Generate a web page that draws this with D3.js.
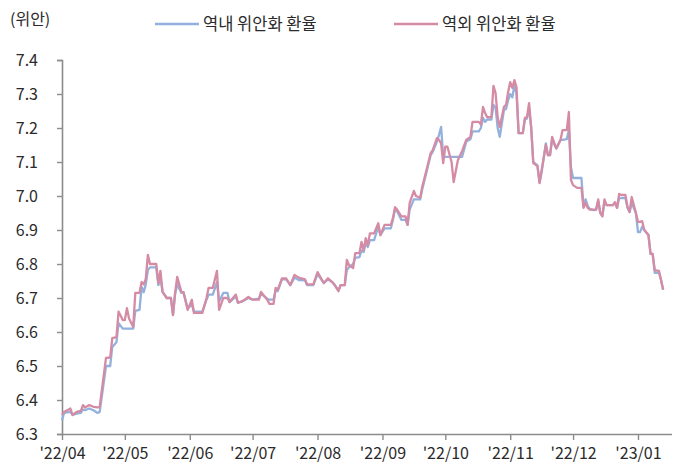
<!DOCTYPE html>
<html>
<head>
<meta charset="utf-8">
<script src="https://cdn.jsdelivr.net/npm/d3@7"></script>
<style>
  body { margin: 0; background: #fff; }
  svg text { font-family: "Noto Sans CJK KR", "Noto Sans", sans-serif; fill: #2a2a2a; }
</style>
</head>
<body>
<div id="chart"></div>
<script>
/* data: onshore / offshore CNY per USD */
const dates = [
  "2022-04-01","2022-04-02","2022-04-05","2022-04-06","2022-04-08","2022-04-10","2022-04-11","2022-04-12",
  "2022-04-14","2022-04-16","2022-04-18","2022-04-19","2022-04-22","2022-04-24","2022-04-25","2022-04-27",
  "2022-04-28","2022-04-30","2022-05-01","2022-05-02","2022-05-03","2022-05-05","2022-05-06","2022-05-08",
  "2022-05-09","2022-05-10","2022-05-11","2022-05-12","2022-05-13","2022-05-16","2022-05-17","2022-05-18",
  "2022-05-19","2022-05-21","2022-05-23","2022-05-24","2022-05-25","2022-05-26","2022-05-28","2022-05-29",
  "2022-05-31","2022-06-02","2022-06-03","2022-06-07","2022-06-09","2022-06-10","2022-06-12","2022-06-14",
  "2022-06-15","2022-06-17","2022-06-19","2022-06-20","2022-06-23","2022-06-24","2022-06-26","2022-06-29",
  "2022-07-01","2022-07-04","2022-07-05","2022-07-08","2022-07-09","2022-07-11","2022-07-12","2022-07-13",
  "2022-07-15","2022-07-17","2022-07-19","2022-07-21","2022-07-23","2022-07-26","2022-07-27","2022-07-30",
  "2022-08-01","2022-08-04","2022-08-06","2022-08-08","2022-08-09","2022-08-11","2022-08-12","2022-08-14",
  "2022-08-15","2022-08-16","2022-08-18","2022-08-19","2022-08-21","2022-08-22","2022-08-23","2022-08-24",
  "2022-08-25","2022-08-26","2022-08-28","2022-08-30","2022-08-31","2022-09-02","2022-09-05","2022-09-06",
  "2022-09-07","2022-09-08","2022-09-10","2022-09-12","2022-09-13","2022-09-14","2022-09-16","2022-09-17",
  "2022-09-19","2022-09-20","2022-09-22","2022-09-24","2022-09-25","2022-09-27","2022-09-28","2022-09-29",
  "2022-09-30","2022-10-01","2022-10-02","2022-10-04","2022-10-05","2022-10-07","2022-10-09","2022-10-11",
  "2022-10-13","2022-10-14","2022-10-17","2022-10-18","2022-10-19","2022-10-20","2022-10-21","2022-10-23",
  "2022-10-24","2022-10-25","2022-10-26","2022-10-27","2022-10-29","2022-10-30","2022-10-31","2022-11-01",
  "2022-11-02","2022-11-03","2022-11-04","2022-11-05","2022-11-07","2022-11-08","2022-11-09","2022-11-10",
  "2022-11-11","2022-11-12","2022-11-14","2022-11-15","2022-11-16","2022-11-18","2022-11-19","2022-11-20",
  "2022-11-21","2022-11-23","2022-11-25","2022-11-26","2022-11-28","2022-11-29","2022-11-30","2022-12-01",
  "2022-12-03","2022-12-05","2022-12-06","2022-12-07","2022-12-08","2022-12-09","2022-12-11","2022-12-12",
  "2022-12-13","2022-12-14","2022-12-15","2022-12-16","2022-12-17","2022-12-20","2022-12-21","2022-12-22",
  "2022-12-23","2022-12-24","2022-12-26","2022-12-27","2022-12-28","2022-12-29","2022-12-31","2023-01-01",
  "2023-01-02","2023-01-03","2023-01-04","2023-01-06","2023-01-07","2023-01-08","2023-01-09","2023-01-11",
  "2023-01-12","2023-01-13"
];

const onshore = [
  6.340,6.362,6.365,6.356,6.360,6.362,6.372,6.370,
  6.375,6.370,6.362,6.365,6.500,6.500,6.556,6.570,
  6.626,6.610,6.610,6.610,6.610,6.610,6.662,6.665,
  6.733,6.717,6.740,6.782,6.790,6.790,6.738,6.760,
  6.718,6.700,6.700,6.650,6.712,6.740,6.715,6.717,
  6.670,6.680,6.660,6.660,6.695,6.710,6.710,6.747,
  6.690,6.715,6.715,6.688,6.705,6.686,6.690,6.700,
  6.695,6.698,6.712,6.698,6.695,6.695,6.722,6.720,
  6.755,6.755,6.738,6.760,6.753,6.752,6.738,6.738,
  6.770,6.744,6.755,6.747,6.740,6.722,6.738,6.738,
  6.782,6.790,6.800,6.818,6.820,6.840,6.835,6.862,
  6.850,6.870,6.870,6.910,6.885,6.905,6.905,6.930,
  6.960,6.955,6.930,6.930,6.915,6.960,6.990,6.990,
  6.990,7.020,7.070,7.120,7.130,7.160,7.180,7.203,
  7.115,7.115,7.115,7.115,7.115,7.115,7.115,7.160,
  7.167,7.190,7.190,7.200,7.230,7.218,7.225,7.225,
  7.268,7.260,7.200,7.174,7.253,7.256,7.282,7.300,
  7.290,7.326,7.300,7.185,7.185,7.225,7.228,7.260,
  7.200,7.100,7.090,7.040,7.070,7.155,7.120,7.120,
  7.165,7.140,7.165,7.165,7.167,7.194,7.085,7.053,
  7.053,7.053,6.968,6.990,6.970,6.962,6.958,6.960,
  6.985,6.950,6.942,6.985,6.973,6.973,6.980,6.965,
  6.994,6.994,6.994,6.965,6.953,6.980,6.950,6.894,
  6.894,6.910,6.900,6.885,6.830,6.830,6.774,6.775,
  6.753,6.724
];

const offshore = [
  6.356,6.365,6.375,6.356,6.365,6.368,6.385,6.378,
  6.385,6.380,6.378,6.380,6.524,6.525,6.582,6.585,
  6.660,6.635,6.635,6.670,6.640,6.615,6.715,6.715,
  6.747,6.740,6.756,6.827,6.800,6.800,6.744,6.780,
  6.718,6.700,6.700,6.650,6.715,6.762,6.718,6.717,
  6.665,6.695,6.656,6.656,6.700,6.730,6.730,6.780,
  6.665,6.700,6.700,6.688,6.710,6.686,6.690,6.703,
  6.695,6.695,6.718,6.695,6.683,6.683,6.730,6.724,
  6.758,6.758,6.738,6.768,6.760,6.755,6.740,6.740,
  6.776,6.744,6.758,6.747,6.740,6.720,6.738,6.738,
  6.812,6.797,6.788,6.832,6.832,6.865,6.840,6.876,
  6.855,6.890,6.890,6.920,6.885,6.915,6.915,6.935,
  6.967,6.960,6.940,6.940,6.915,6.980,7.015,7.000,
  6.995,7.027,7.076,7.126,7.135,7.170,7.165,7.155,
  7.097,7.145,7.145,7.100,7.041,7.105,7.132,7.165,
  7.174,7.218,7.218,7.210,7.262,7.244,7.232,7.232,
  7.324,7.303,7.232,7.203,7.262,7.268,7.306,7.335,
  7.318,7.341,7.320,7.185,7.185,7.230,7.232,7.273,
  7.203,7.097,7.088,7.038,7.076,7.150,7.120,7.120,
  7.174,7.140,7.165,7.194,7.194,7.247,7.047,7.032,
  7.024,7.024,6.965,6.980,6.965,6.960,6.960,6.960,
  6.990,6.950,6.940,6.990,6.973,6.973,6.982,6.965,
  7.006,7.003,7.003,6.968,6.953,6.997,6.950,6.924,
  6.924,6.926,6.900,6.885,6.830,6.830,6.782,6.780,
  6.753,6.724
];

const yTicks = [6.3, 6.4, 6.5, 6.6, 6.7, 6.8, 6.9, 7.0, 7.1, 7.2, 7.3, 7.4];
const seriesNames = ["역내 위안화 환율", "역외 위안화 환율"];
const seriesColors = ["#92b1dc", "#d68ba4"];
const unitLabel = "(위안)";

const parse = d3.timeParse("%Y-%m-%d");
const rows = dates.map((d, i) => ({ date: parse(d), on: onshore[i], off: offshore[i] }));

const width = 675, height = 474;
const margin = { top: 60, right: 3, bottom: 40, left: 62 };

const svg = d3.select("#chart")
  .append("svg")
  .attr("width", width)
  .attr("height", height);

// X scale -> dates (month ticks)
const x = d3.scaleTime()
  .domain([new Date(2022, 3, 1), new Date(2023, 0, 17)])
  .range([margin.left, 671.5]);

// Y scale -> rate
const y = d3.scaleLinear()
  .domain([6.3, 7.4])
  .range([height - margin.bottom, margin.top]);

// Axes
const xAxis = svg.append("g")
  .attr("transform", `translate(0,${height - margin.bottom})`)
  .call(d3.axisBottom(x)
    .ticks(d3.timeMonth.every(1))
    .tickSize(6)
    .tickSizeOuter(0)
    .tickFormat(d3.timeFormat("'%y/%m")));

xAxis.select(".domain").attr("stroke", "#8c8c8c").attr("stroke-width", 1.6);
xAxis.selectAll(".tick line").attr("stroke", "#8c8c8c").attr("stroke-width", 1.4);
xAxis.selectAll(".tick text")
  .attr("y", 14)
  .attr("dy", "0.71em")
  .style("font-size", "16px");

const yAxis = svg.append("g")
  .attr("transform", `translate(${margin.left},0)`)
  .call(d3.axisLeft(y)
    .tickValues(yTicks)
    .tickSize(5)
    .tickSizeOuter(5)
    .tickFormat(d3.format(".1f")));

yAxis.select(".domain").attr("stroke", "#8c8c8c").attr("stroke-width", 1.6);
yAxis.selectAll(".tick line").attr("stroke", "#8c8c8c").attr("stroke-width", 1.4);
yAxis.selectAll(".tick text")
  .attr("x", -24)
  .style("font-size", "16px");

// Lines
const lineOn = d3.line().x(d => x(d.date)).y(d => y(d.on));
const lineOff = d3.line().x(d => x(d.date)).y(d => y(d.off));

svg.append("path")
  .datum(rows)
  .attr("fill", "none")
  .attr("stroke", seriesColors[0])
  .attr("stroke-width", 2.3)
  .attr("stroke-linejoin", "round")
  .attr("d", lineOn);

svg.append("path")
  .datum(rows)
  .attr("fill", "none")
  .attr("stroke", seriesColors[1])
  .attr("stroke-width", 2.3)
  .attr("stroke-linejoin", "round")
  .attr("d", lineOff);

// Unit label
svg.append("text")
  .attr("x", 10)
  .attr("y", 25)
  .style("font-size", "16px")
  .text(unitLabel);

// Legend
const legendX = [155, 394];
const legend = svg.selectAll("g.legend")
  .data(seriesNames)
  .join("g")
  .attr("class", "legend")
  .attr("transform", (d, i) => `translate(${legendX[i]},24)`);

legend.append("line")
  .attr("x1", 0).attr("x2", 44)
  .attr("stroke", (d, i) => seriesColors[i])
  .attr("stroke-width", 2.3);

legend.append("text")
  .attr("x", 48)
  .attr("dy", "0.35em")
  .style("font-size", "16.5px")
  .text(d => d);
</script>
</body>
</html>
